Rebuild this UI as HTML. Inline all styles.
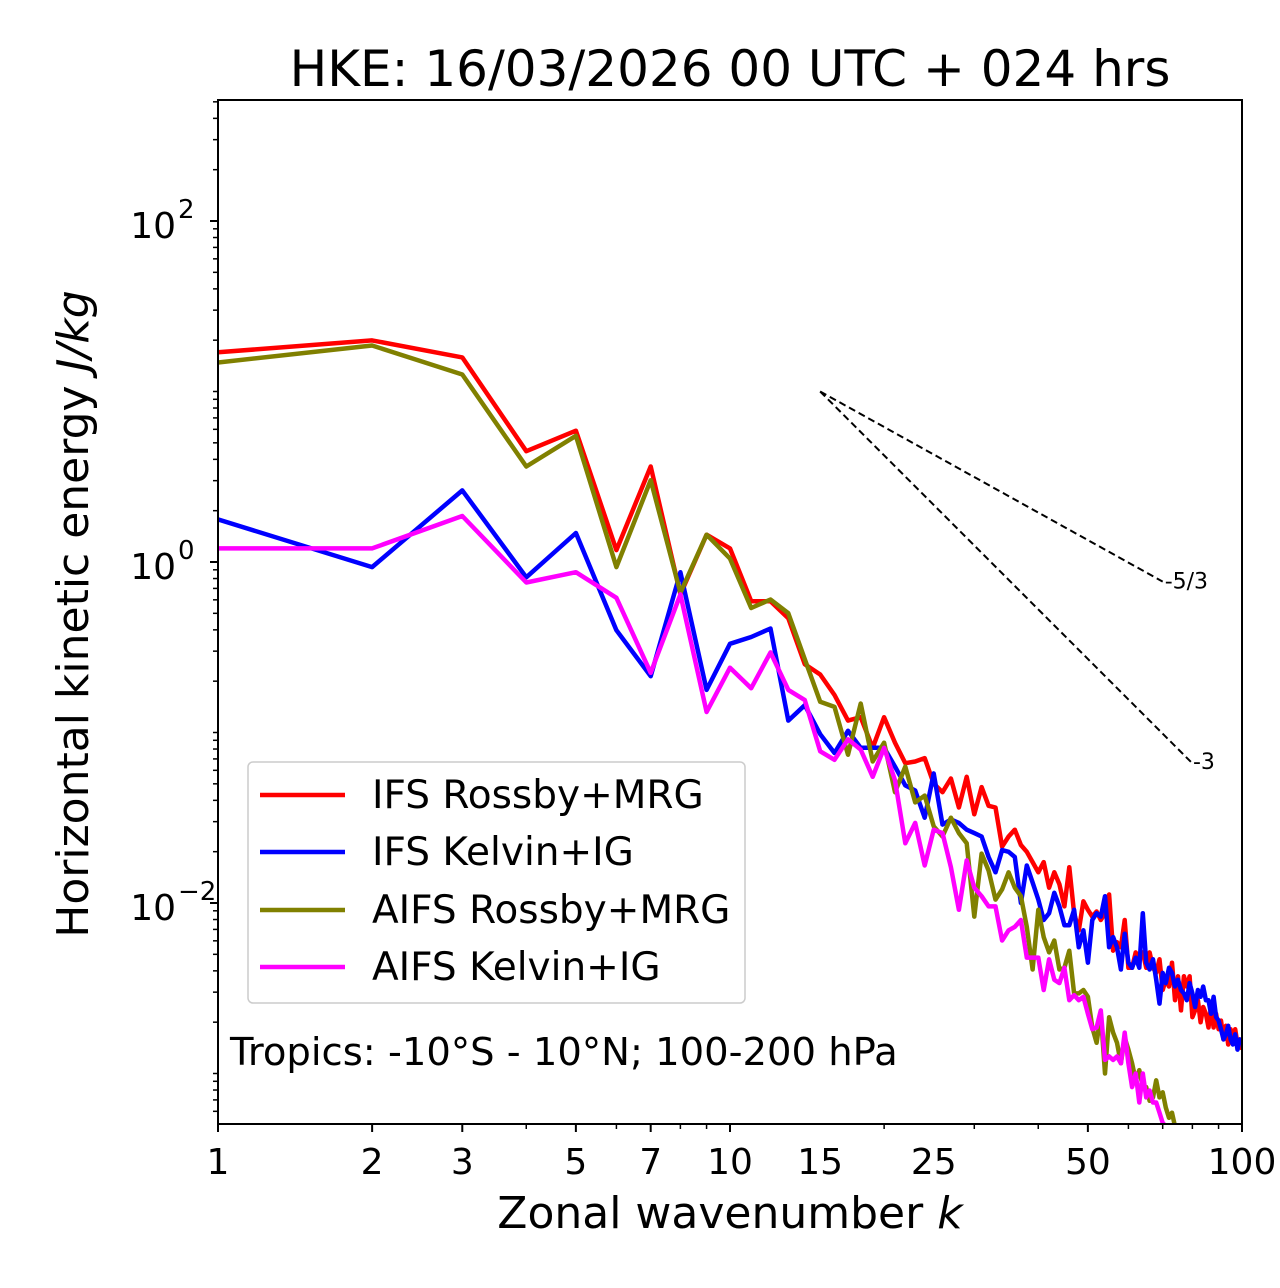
<!DOCTYPE html>
<html><head><meta charset="utf-8"><style>
html,body{margin:0;padding:0;background:#fff;}
svg{display:block;font-family:"DejaVu Sans","Liberation Sans",sans-serif;}
</style></head><body>
<svg id="chart" width="1280" height="1288" viewBox="0 0 1280 1288" xmlns="http://www.w3.org/2000/svg">
<rect width="1280" height="1288" fill="#fff"/>
<text x="730" y="86" font-size="50" text-anchor="middle">HKE: 16/03/2026 00 UTC + 024 hrs</text>
<g id="plot"></g>
<rect x="218" y="100" width="1024" height="1024" fill="none" stroke="#000" stroke-width="2"/>
<g id="axes"></g>
<text x="730" y="1228" font-size="44" text-anchor="middle">Zonal wavenumber <tspan font-style="italic">k</tspan></text>
<text transform="translate(88,614) rotate(-90)" font-size="44" text-anchor="middle">Horizontal kinetic energy <tspan font-style="italic">J/kg</tspan></text>
<g>
<rect x="248" y="762" width="497" height="241" rx="5" fill="#fff" fill-opacity="0.85" stroke="#ccc" stroke-width="1.5"/>
<line x1="260" y1="795" x2="345" y2="795" stroke="#ff0000" stroke-width="4.5"/>
<text x="372" y="808" font-size="39">IFS Rossby+MRG</text>
<line x1="260" y1="852" x2="345" y2="852" stroke="#0000ff" stroke-width="4.5"/>
<text x="372" y="865" font-size="39">IFS Kelvin+IG</text>
<line x1="260" y1="910" x2="345" y2="910" stroke="#808000" stroke-width="4.5"/>
<text x="372" y="923" font-size="39">AIFS Rossby+MRG</text>
<line x1="260" y1="967" x2="345" y2="967" stroke="#ff00ff" stroke-width="4.5"/>
<text x="372" y="980" font-size="39">AIFS Kelvin+IG</text>
</g>
<text x="230" y="1065" font-size="38.5">Tropics: -10°S - 10°N; 100-200 hPa</text>
</svg>
<script>
// log10 of horizontal kinetic energy (J/kg) for k = 1..N
const ifsRossbyLog = [1.23,1.30,1.20,0.65,0.77,0.07,0.56,-0.19,0.16,0.08,-0.23,-0.23,-0.33,-0.60,-0.66,-0.78,-0.93,-0.91,-1.09,-0.91,-1.06,-1.18,-1.17,-1.15,-1.30,-1.35,-1.27,-1.44,-1.26,-1.48,-1.32,-1.43,-1.44,-1.67,-1.61,-1.57,-1.66,-1.70,-1.76,-1.82,-1.76,-1.91,-1.82,-1.89,-2.02,-1.79,-2.06,-2.16,-1.99,-2.04,-2.08,-2.05,-2.10,-2.06,-1.95,-2.28,-2.23,-2.26,-2.10,-2.38,-2.38,-2.29,-2.33,-2.29,-2.38,-2.29,-2.38,-2.41,-2.33,-2.51,-2.45,-2.49,-2.35,-2.57,-2.43,-2.63,-2.43,-2.49,-2.43,-2.67,-2.63,-2.57,-2.70,-2.61,-2.65,-2.73,-2.61,-2.73,-2.65,-2.74,-2.69,-2.80,-2.72,-2.83,-2.74,-2.80,-2.74,-2.83,-2.80,-2.86];
const ifsKelvinLog = [0.25,-0.03,0.42,-0.09,0.17,-0.40,-0.67,-0.06,-0.75,-0.48,-0.44,-0.39,-0.93,-0.84,-1.01,-1.12,-0.99,-1.09,-1.09,-1.09,-1.20,-1.31,-1.34,-1.50,-1.24,-1.54,-1.51,-1.53,-1.57,-1.59,-1.61,-1.73,-1.82,-1.69,-1.70,-1.73,-2.00,-1.78,-1.88,-1.98,-2.10,-2.06,-1.94,-2.02,-2.13,-2.13,-2.04,-2.26,-2.16,-2.35,-2.10,-2.06,-2.08,-1.96,-2.26,-2.20,-2.26,-2.39,-2.18,-2.35,-2.38,-2.32,-2.38,-2.06,-2.35,-2.39,-2.33,-2.45,-2.59,-2.41,-2.47,-2.38,-2.41,-2.49,-2.45,-2.51,-2.53,-2.57,-2.47,-2.53,-2.61,-2.51,-2.55,-2.49,-2.57,-2.57,-2.65,-2.55,-2.67,-2.69,-2.74,-2.80,-2.77,-2.72,-2.80,-2.83,-2.77,-2.86,-2.80,-2.83];
const aifsRossbyLog = [1.17,1.27,1.10,0.56,0.74,-0.03,0.48,-0.18,0.16,0.02,-0.27,-0.22,-0.30,-0.57,-0.82,-0.85,-1.13,-0.83,-1.17,-1.06,-1.35,-1.20,-1.41,-1.37,-1.55,-1.61,-1.50,-1.59,-1.65,-2.08,-1.71,-1.81,-1.98,-1.92,-1.82,-1.91,-1.96,-2.14,-2.39,-2.04,-2.20,-2.29,-2.22,-2.39,-2.38,-2.28,-2.53,-2.53,-2.51,-2.55,-2.73,-2.82,-2.65,-3.00,-2.67,-2.76,-2.82,-2.94,-2.79,-2.86,-2.94,-3.04,-2.98,-3.08,-3.08,-3.16,-3.14,-3.04,-3.14,-3.11,-3.20,-3.26,-3.23,-3.31,-3.35,-3.33,-3.40,-3.45,-3.42,-3.50,-3.55,-3.52,-3.60,-3.62,-3.66,-3.70,-3.68,-3.75,-3.78,-3.80,-3.84,-3.86,-3.90,-3.92,-3.95,-4.00,-4.02,-4.05,-4.08,-4.12];
const aifsKelvinLog = [0.08,0.08,0.27,-0.12,-0.06,-0.21,-0.65,-0.19,-0.88,-0.62,-0.74,-0.53,-0.75,-0.81,-1.11,-1.16,-1.04,-1.10,-1.26,-1.09,-1.28,-1.65,-1.53,-1.78,-1.57,-1.59,-1.79,-2.04,-1.75,-1.91,-1.96,-2.02,-2.02,-2.22,-2.16,-2.14,-2.10,-2.32,-2.32,-2.32,-2.51,-2.33,-2.45,-2.47,-2.38,-2.57,-2.54,-2.57,-2.55,-2.65,-2.74,-2.73,-2.63,-2.92,-2.90,-2.92,-2.90,-2.94,-2.76,-2.94,-3.08,-3.00,-3.17,-3.00,-3.14,-3.10,-3.17,-3.17,-3.23,-3.29,-3.31,-3.36,-3.34,-3.40,-3.44,-3.48,-3.46,-3.52,-3.56,-3.60,-3.62,-3.66,-3.70,-3.72,-3.76,-3.80,-3.82,-3.85,-3.88,-3.92,-3.95,-3.98,-4.00,-4.04,-4.07,-4.10,-4.12,-4.16,-4.18,-4.22];
const seriesNames = ['ifs-rossby-mrg','ifs-kelvin-ig','aifs-rossby-mrg','aifs-kelvin-ig'];
const seriesColors = ['#ff0000','#0000ff','#808000','#ff00ff'];
const xTickLabels = [1,2,3,5,7,10,15,25,50,100];
const yMajorExps = [-2,0,2];
const refStartK = 15, refStartE = 10;
const refSlopes = [-5/3,-3];
const refEndK = [70,79.5];
const refLabels = ['-5/3','-3'];

const NS='http://www.w3.org/2000/svg';
const X0=218,X1=1242,Y0=100,Y1=1124;
const xMinLog=0,xMaxLog=2,yMinLog=-3.2962,yMaxLog=2.7097;
function xs(k){return X0+(Math.log10(k)-xMinLog)/(xMaxLog-xMinLog)*(X1-X0);}
function ysLog(l){return Y1-(l-yMinLog)/(yMaxLog-yMinLog)*(Y1-Y0);}
function mk(tag,attrs,parent){const e=document.createElementNS(NS,tag);for(const a in attrs)e.setAttribute(a,attrs[a]);parent.appendChild(e);return e;}
const svg=document.getElementById('chart');
const defs=mk('defs',{},svg);
const cp=mk('clipPath',{id:'clip'},defs);
mk('rect',{x:X0,y:Y0,width:X1-X0,height:Y1-Y0},cp);
const plot=document.getElementById('plot');
plot.setAttribute('clip-path','url(#clip)');
const all=[ifsRossbyLog,ifsKelvinLog,aifsRossbyLog,aifsKelvinLog];
all.forEach((arr,i)=>{
  const pts=arr.map((v,j)=>xs(j+1).toFixed(1)+','+ysLog(v).toFixed(1)).join(' ');
  const pl=mk('polyline',{points:pts,fill:'none',stroke:seriesColors[i],'stroke-width':4.5,'stroke-linejoin':'round'},plot);
  
  
});
refSlopes.forEach((s,i)=>{
  const l0=Math.log10(refStartE), l1=l0+s*(Math.log10(refEndK[i])-Math.log10(refStartK));
  const ln=mk('line',{x1:xs(refStartK),y1:ysLog(l0),x2:xs(refEndK[i]),y2:ysLog(l1),stroke:'#000','stroke-width':2,'stroke-dasharray':'7,4'},plot);
  
  
  const t=mk('text',{x:xs(refEndK[i])+2,y:ysLog(l1)+7,'font-size':22},svg);
  t.textContent=refLabels[i];
  
  
});
const axes=document.getElementById('axes');
for(let d=1;d<=100;d*=10){for(let m=1;m<10;m++){const k=d*m;if(k>100)break;
  const major=xTickLabels.includes(k);
  const tk=mk('line',{x1:xs(k),y1:Y1,x2:xs(k),y2:Y1+(major?8:5),stroke:'#000','stroke-width':major?2:1.5},axes);
  
  
}}
xTickLabels.forEach(k=>{
  const t=mk('text',{x:xs(k),y:1174,'font-size':36,'text-anchor':'middle'},axes);
  t.textContent=k;
  
  
});
for(let e=-4;e<=2;e++){for(let m=1;m<10;m++){const l=e+Math.log10(m);
  if(l<yMinLog||l>yMaxLog)continue;
  const major=(m===1&&e%2===0);
  const tk=mk('line',{x1:X0,y1:ysLog(l),x2:X0-(major?8:5),y2:ysLog(l),stroke:'#000','stroke-width':major?2:1.5},axes);
  
  
}}
yMajorExps.forEach(e=>{
  const t=mk('text',{x:176,y:ysLog(e)+17,'font-size':36,'text-anchor':'end'},axes);
  t.textContent='10';
  
  
  const s=mk('text',{x:178,y:ysLog(e)-3,'font-size':26,'text-anchor':'start'},axes);
  s.textContent=e<0?'\u2212'+(-e):String(e);
  
  
});
</script>
</body></html>
